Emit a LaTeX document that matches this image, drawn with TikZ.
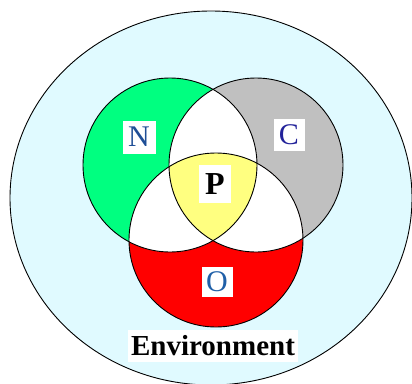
\documentclass[tikz,border=0pt]{standalone}
\usepackage{fontspec}
\setmainfont{Liberation Serif}
\definecolor{envcyan}{HTML}{E0FAFF}
\definecolor{ngreen}{HTML}{00FF80}
\definecolor{cgray}{HTML}{C0C0C0}
\definecolor{ored}{HTML}{FF0000}
\definecolor{pyellow}{HTML}{FFFF80}
\definecolor{nblue}{HTML}{1F4E96}
\definecolor{cnavy}{HTML}{22229A}
\definecolor{oblue}{HTML}{2060A8}
\begin{document}
\begin{tikzpicture}[x=1pt,y=-1pt,
  outline/.style={draw=black, line width=0.9pt},
  lbl/.style={fill=white, inner sep=0pt, minimum width=33pt, minimum height=33pt, font=\fontsize{30}{30}\selectfont},
  envlbl/.style={fill=white, inner sep=3pt, minimum width=167pt, minimum height=32pt, font=\fontsize{29}{29}\selectfont\bfseries}]
\useasboundingbox (0,0) rectangle (412,383);
\begin{scope}
  \clip (0,0) rectangle (412,383);
  \draw[outline, fill=envcyan] (211,198) ellipse [x radius=201, y radius=187];
\end{scope}
\def\Ncirc{(170,165) circle [radius=87]}
\def\Ccirc{(256,165) circle [radius=87]}
\def\Ocirc{(216,240) circle [radius=87]}
\fill[ngreen] \Ncirc;
\fill[cgray] \Ccirc;
\fill[ored] \Ocirc;
\begin{scope}
  \clip \Ncirc;
  \fill[white] \Ccirc;
  \fill[white] \Ocirc;
\end{scope}
\begin{scope}
  \clip \Ccirc;
  \fill[white] \Ocirc;
\end{scope}
\begin{scope}
  \clip \Ncirc;
  \clip \Ccirc;
  \fill[pyellow] \Ocirc;
\end{scope}
\draw[outline] \Ncirc;
\draw[outline] \Ccirc;
\draw[outline] \Ocirc;
\node[lbl, text=nblue] (N) at (139,137) {N};
\node[lbl, text=cnavy, minimum width=31pt, minimum height=32pt] (C) at (289,135) {C};
\node[lbl, text=black, font=\fontsize{32}{32}\selectfont\bfseries, minimum width=32pt, minimum height=38pt] (P) at (215,184) {P};
\node[lbl, text=oblue, minimum width=31pt, minimum height=30pt] (O) at (217,282) {O};
\node[envlbl] (E) at (213,346) {Environment};
\end{tikzpicture}
\end{document}
